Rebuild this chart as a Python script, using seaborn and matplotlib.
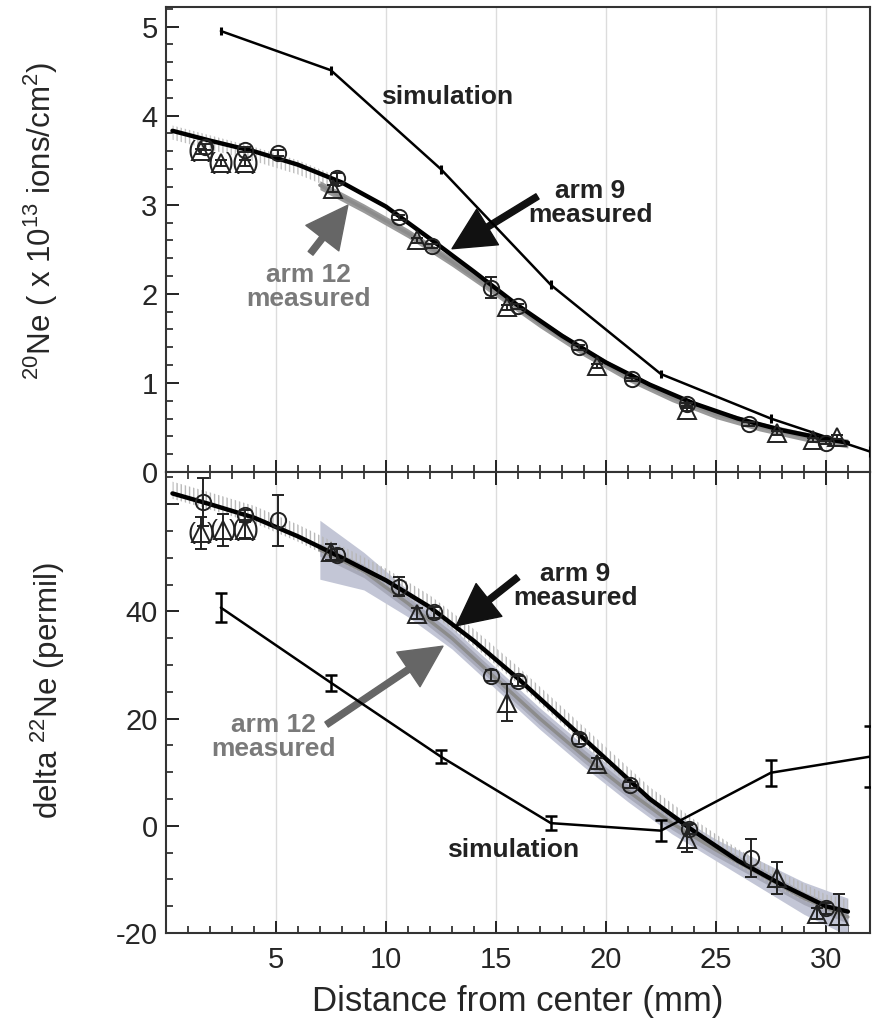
import numpy as np
import pandas as pd
import matplotlib
matplotlib.use("Agg")
import matplotlib.pyplot as plt
import seaborn as sns

# ---- top panel: 20Ne fluence (x 1e13 ions/cm2) ----
sim_x = [2.5, 7.5, 12.5, 17.5, 22.5, 27.5, 32.0]
sim_top = [4.95, 4.51, 3.40, 2.10, 1.10, 0.60, 0.23]
sim_top_err = [0.05, 0.05, 0.05, 0.05, 0.05, 0.05, 0.06]

arm9_x_top = [1.8, 3.6, 5.1, 7.8, 10.6, 12.1, 14.8, 16.0, 18.8, 21.2, 23.7, 26.5, 30.0]
arm9_top = [3.65, 3.62, 3.58, 3.30, 2.86, 2.54, 2.07, 1.86, 1.40, 1.04, 0.76, 0.54, 0.33]
arm9_top_err = [0.03, 0.03, 0.03, 0.06, 0.03, 0.02, 0.12, 0.03, 0.03, 0.02, 0.02, 0.02, 0.02]

arm12_x_top = [1.6, 2.5, 3.6, 7.6, 11.4, 15.5, 19.6, 23.7, 27.8, 29.4, 30.5]
arm12_top = [3.60, 3.47, 3.47, 3.18, 2.60, 1.85, 1.19, 0.70, 0.44, 0.36, 0.39]
arm12_top_err = [0.03, 0.03, 0.03, 0.04, 0.03, 0.03, 0.02, 0.02, 0.02, 0.02, 0.02]

fit9_x = [0.3, 2, 4, 6, 8, 10, 12, 14, 16, 18, 20, 22, 24, 26, 28, 30, 31]
fit9_top = [3.83, 3.72, 3.60, 3.45, 3.25, 2.98, 2.62, 2.25, 1.87, 1.53, 1.23, 0.98, 0.77, 0.60, 0.47, 0.37, 0.33]
band9_top_x = [0.3, 2, 4, 6, 7.5]
band9_top = [3.85, 3.74, 3.61, 3.46, 3.31]

fit12_x = [7, 9, 11, 13, 15, 17, 19, 21, 23, 25, 27, 29, 31]
fit12_top = [3.22, 2.96, 2.68, 2.36, 2.02, 1.67, 1.35, 1.07, 0.84, 0.65, 0.51, 0.40, 0.32]

# ---- bottom panel: delta 22Ne (permil) ----
sim_bot = [40.7, 26.7, 12.9, 0.5, -0.9, 9.9, 12.9]
sim_bot_err = [2.7, 1.5, 1.2, 1.3, 1.9, 2.4, 5.7]

arm9_x_bot = [1.7, 3.6, 5.1, 7.8, 10.6, 12.2, 14.8, 16.0, 18.8, 21.1, 23.8, 26.6, 30.0]
arm9_bot = [60.4, 58.0, 57.0, 50.6, 44.6, 39.8, 28.0, 27.0, 16.2, 7.6, -0.6, -6.0, -15.4]
arm9_bot_err = [4.5, 1.0, 4.8, 1.0, 1.8, 1.0, 1.0, 1.0, 1.0, 0.5, 1.0, 3.5, 1.0]

arm12_x_bot = [1.6, 2.6, 3.6, 7.5, 11.4, 15.5, 19.6, 23.7, 27.8, 29.6, 30.6]
arm12_bot = [54.6, 55.2, 55.2, 51.0, 39.6, 23.0, 11.6, -2.4, -9.8, -16.4, -16.8]
arm12_bot_err = [3.0, 3.0, 1.5, 1.5, 1.0, 3.5, 1.0, 2.5, 3.0, 1.0, 4.0]

fit9_bot = [62, 60, 57.5, 54, 50, 45.8, 40.8, 34.5, 27.5, 20, 12.5, 5.0, -1.0, -6.5, -11, -15, -16]
fit12_bot = [51.5, 47.5, 41.5, 35.0, 27.5, 20.0, 13.0, 6.5, 0.5, -4.5, -9.0, -13.5, -17.0]
band12_bot_hw = [5.5, 3.5, 2.5, 2.0, 2.0, 2.0, 2.0, 2.0, 2.0, 2.0, 2.5, 3.0, 3.5]

GREY = "#7a7a7a"
ARROW = "simple,head_length=1.5,head_width=1.5,tail_width=0.22"

sns.set_theme(style="ticks")
plt.rcParams["font.family"] = ["Liberation Sans", "DejaVu Sans"]
plt.rcParams["mathtext.default"] = "regular"
plt.rcParams["hatch.color"] = "#b0b0b0"
plt.rcParams["hatch.linewidth"] = 1.0

fig = plt.figure(figsize=(8.73, 10.27), dpi=100)
ax1 = fig.add_axes([0.190, 0.5404, 0.8064, 0.4528])
ax2 = fig.add_axes([0.190, 0.0915, 0.8064, 0.4489])


def measured(ax, x, y, err, marker, ms):
    ax.errorbar(x, y, yerr=err, fmt=marker, ms=ms, mfc="none", mec="#222222",
                mew=1.4, ecolor="#222222", elinewidth=1.4, capsize=4, zorder=6)


def parens(ax, x, y, n, fs):
    # bracketed (uncertain) points near the centre
    for xi, yi in zip(x[:n], y[:n]):
        ax.text(xi - 0.42, yi, "(", ha="center", va="center", fontsize=fs,
                color="#222222", zorder=7)
        ax.text(xi + 0.42, yi, ")", ha="center", va="center", fontsize=fs,
                color="#222222", zorder=7)


# top panel
ax = ax1
ax.fill_between(band9_top_x, np.array(band9_top) - 0.12, np.array(band9_top) + 0.04,
                facecolor="none", edgecolor="#c0c0c0", hatch="||||", lw=0, zorder=2)
ax.fill_between(fit12_x, np.array(fit12_top) - 0.05, np.array(fit12_top) + 0.05,
                color="#9a9a9a", lw=0, zorder=2)
sns.lineplot(x=fit12_x, y=fit12_top, ax=ax, color="#8c8c8c", lw=2.5, sort=False,
             estimator=None, zorder=3)
sns.lineplot(x=fit9_x, y=fit9_top, ax=ax, color="black", lw=3.2, sort=False,
             estimator=None, zorder=4)
sns.lineplot(x=sim_x, y=sim_top, ax=ax, color="black", lw=1.8, sort=False,
             estimator=None, zorder=5)
ax.errorbar(sim_x, sim_top, yerr=sim_top_err, fmt="none", ecolor="black",
            elinewidth=2.2, capsize=0, zorder=5)
measured(ax, arm9_x_top, arm9_top, arm9_top_err, "o", 11)
measured(ax, arm12_x_top, arm12_top, arm12_top_err, "^", 13)
parens(ax, arm12_x_top, arm12_top, 3, 17)

ax.text(9.8, 4.21, "simulation", fontsize=19, fontweight="bold", ha="left",
        va="center", color="#222222")
ax.text(19.3, 3.02, "arm 9\nmeasured", fontsize=19, fontweight="bold", ha="center",
        va="center", color="#222222", linespacing=1.0)
ax.annotate("", xy=(12.9, 2.49), xytext=(17.0, 3.11),
            arrowprops=dict(arrowstyle=ARROW, color="#111111", mutation_scale=20))
ax.text(6.5, 2.08, "arm 12\nmeasured", fontsize=19, fontweight="bold", ha="center",
        va="center", color=GREY, linespacing=1.0)
ax.annotate("", xy=(8.35, 3.02), xytext=(6.5, 2.43),
            arrowprops=dict(arrowstyle=ARROW, color="#666666", mutation_scale=20))

ax.set_ylim(0, 5.22)
ax.set_yticks([0, 1, 2, 3, 4, 5])
ax.set_yticks(np.arange(0, 5.21, 0.2), minor=True)
ax.set_ylabel("$^{20}$Ne ( x 10$^{13}$ ions/cm$^{2}$)", fontsize=22.5)
ax.yaxis.set_label_coords(-0.15, 0.54)
ax.tick_params(axis="x", labelbottom=False)

# bottom panel
ax = ax2
ax.fill_between(fit12_x, np.array(fit12_bot) - np.array(band12_bot_hw),
                np.array(fit12_bot) + np.array(band12_bot_hw),
                color="#c3c6d6", lw=0, zorder=2)
ax.fill_between(fit12_x, np.array(fit12_bot) - 1.2, np.array(fit12_bot) + 1.2,
                color="#a7a9b8", lw=0, zorder=2)
ax.fill_between(fit9_x, np.array(fit9_bot) - 1.0, np.array(fit9_bot) + 2.2,
                facecolor="none", edgecolor="#b8b8b8", hatch="||||", lw=0, zorder=2)
sns.lineplot(x=fit12_x, y=fit12_bot, ax=ax, color="#8c8c8c", lw=2.5, sort=False,
             estimator=None, zorder=3)
sns.lineplot(x=fit9_x, y=fit9_bot, ax=ax, color="black", lw=3.2, sort=False,
             estimator=None, zorder=4)
sns.lineplot(x=sim_x, y=sim_bot, ax=ax, color="black", lw=1.8, sort=False,
             estimator=None, zorder=5)
ax.errorbar(sim_x, sim_bot, yerr=sim_bot_err, fmt="none", ecolor="black",
            elinewidth=1.8, capsize=4, capthick=1.8, zorder=5)
measured(ax, arm9_x_bot, arm9_bot, arm9_bot_err, "o", 11)
measured(ax, arm12_x_bot, arm12_bot, arm12_bot_err, "^", 13)
parens(ax, arm12_x_bot, arm12_bot, 3, 17)

ax.text(12.8, -4.6, "simulation", fontsize=19, fontweight="bold", ha="left",
        va="center", color="#222222")
ax.text(18.6, 44.8, "arm 9\nmeasured", fontsize=19, fontweight="bold", ha="center",
        va="center", color="#222222", linespacing=1.0)
ax.annotate("", xy=(13.1, 37.0), xytext=(16.1, 46.7),
            arrowprops=dict(arrowstyle=ARROW, color="#111111", mutation_scale=20))
ax.text(4.9, 16.5, "arm 12\nmeasured", fontsize=19, fontweight="bold", ha="center",
        va="center", color=GREY, linespacing=1.0)
ax.annotate("", xy=(12.7, 33.8), xytext=(7.2, 18.6),
            arrowprops=dict(arrowstyle=ARROW, color="#666666", mutation_scale=20))

ax.set_ylim(-20, 66)
ax.set_yticks([-20, 0, 20, 40, 60])
ax.set_yticklabels(["-20", "0", "20", "40", ""])
ax.set_yticks(np.arange(-20, 66, 5), minor=True)
ax.set_ylabel("delta $^{22}$Ne (permil)", fontsize=22.5)
ax.yaxis.set_label_coords(-0.14, 0.525)
ax.set_xlabel("Distance from center (mm)", fontsize=25, labelpad=8)
ax.tick_params(axis="x", top=True, which="both")

for a in (ax1, ax2):
    a.set_xlim(0, 32)
    a.set_xticks([5, 10, 15, 20, 25, 30])
    a.set_xticks(np.arange(1, 32, 1), minor=True)
    a.grid(axis="x", color="#dcdcdc", lw=1.0)
    a.set_axisbelow(True)
    a.tick_params(which="major", direction="in", length=9, width=1.4, color="#222222",
                  labelsize=21, pad=6)
    a.tick_params(which="minor", direction="in", length=5, width=1.2, color="#222222")
    a.tick_params(axis="y", which="both", left=True, right=False)
    for s in a.spines.values():
        s.set_linewidth(1.5)
        s.set_color("#333333")
ax2.tick_params(axis="x", which="major", pad=9)

fig.savefig("out.png", dpi=100)
